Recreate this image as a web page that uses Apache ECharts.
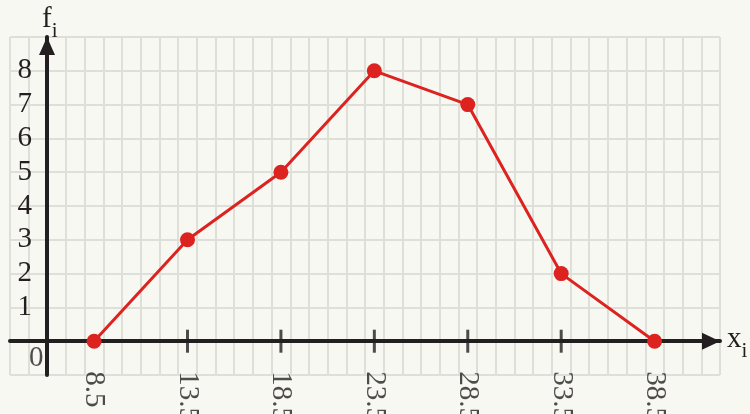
<!DOCTYPE html>
<html>
<head>
<meta charset="utf-8">
<script src="https://cdn.jsdelivr.net/npm/echarts@6/dist/echarts.min.js"></script>
<style>
  html, body { margin: 0; padding: 0; background: #f8f8f2; }
  #chart { width: 750px; height: 414px; }
</style>
</head>
<body>
<div id="chart"></div>
<script>
// Frequency polygon: class midpoints and their frequencies
const midpoints = [8.5, 13.5, 18.5, 23.5, 28.5, 33.5, 38.5];
const frequencies = [0, 3, 5, 8, 7, 2, 0];
// Tick marks drawn across the x axis
const tickMarks = [13.5, 18.5, 23.5, 28.5, 33.5];
// Labels on the axes
const xTickLabels = [8.5, 13.5, 18.5, 23.5, 28.5, 33.5, 38.5];
const yTickLabels = [1, 2, 3, 4, 5, 6, 7, 8];
// Where the vertical axis crosses the horizontal one
const yAxisAt = 6;

const ink = '#231f20';
const red = '#dc231f';
const gridColor = '#dfdfda';
const serif = '"Liberation Serif", "Times New Roman", serif';

// letter with a lowered subscript "i"
const subscriptRich = {
  a: { fontFamily: serif, fontSize: 29, color: ink, lineHeight: 37, verticalAlign: 'top' },
  b: { fontFamily: serif, fontSize: 21, color: ink, lineHeight: 37, verticalAlign: 'bottom' }
};

const chart = echarts.init(document.getElementById('chart'), null, { renderer: 'canvas' });

chart.setOption({
  backgroundColor: '#f8f8f2',
  animation: false,
  grid: { left: 10, right: 30, top: 37, bottom: 39, containLabel: false, outerBoundsMode: 'none' },
  xAxis: {
    type: 'value',
    min: 4, max: 42, interval: 1,
    name: '{a|x}{b|i}',
    nameLocation: 'end',
    nameGap: 7,
    nameTextStyle: { rich: subscriptRich, padding: [4, 0, 0, 0] },
    axisLine: {
      show: true, onZero: true,
      symbol: ['none', 'triangle'], symbolSize: [17, 18], symbolOffset: [0, -9],
      lineStyle: { color: ink, width: 4 }
    },
    axisTick: { show: false },
    axisLabel: { show: false },
    splitLine: { show: true, lineStyle: { color: gridColor, width: 2 } }
  },
  yAxis: {
    type: 'value',
    min: -1, max: 9, interval: 1,
    offset: -37,
    name: '{a|f}{b|i}',
    nameLocation: 'end',
    nameGap: -5,
    nameTextStyle: {
      align: 'left',
      padding: [0, 0, 0, -5],
      rich: subscriptRich
    },
    axisLine: {
      show: true,
      symbol: ['none', 'triangle'], symbolSize: [16, 18], symbolOffset: [0, -9],
      lineStyle: { color: ink, width: 4 }
    },
    axisTick: { show: false },
    axisLabel: {
      customValues: yTickLabels,
      margin: 15,
      fontFamily: serif, fontSize: 29, color: ink
    },
    splitLine: { show: true, lineStyle: { color: gridColor, width: 2 } }
  },
  series: [
    {
      // short ticks crossing the x axis
      type: 'scatter',
      data: tickMarks.map(x => [x, 0]),
      symbol: 'rect',
      symbolSize: [3, 23],
      itemStyle: { color: ink },
      silent: true,
      z: 3
    },
    {
      // x values written downward under the axis
      type: 'scatter',
      data: xTickLabels.map(x => [x, 0]),
      symbolSize: 0,
      silent: true,
      label: {
        show: true,
        formatter: p => String(p.value[0]),
        position: 'bottom',
        distance: 30,
        rotate: -90,
        align: 'left',
        verticalAlign: 'middle',
        fontFamily: serif, fontSize: 29, color: ink
      }
    },
    {
      // origin label
      type: 'scatter',
      data: [[yAxisAt, 0]],
      symbolSize: 0,
      silent: true,
      label: {
        show: true,
        formatter: '0',
        position: 'inside',
        offset: [-11, 17],
        fontFamily: serif, fontSize: 29, color: ink
      }
    },
    {
      type: 'line',
      data: midpoints.map((x, i) => [x, frequencies[i]]),
      symbol: 'circle',
      symbolSize: 15,
      lineStyle: { color: red, width: 3 },
      itemStyle: { color: red },
      z: 5
    }
  ]
});
</script>
</body>
</html>
